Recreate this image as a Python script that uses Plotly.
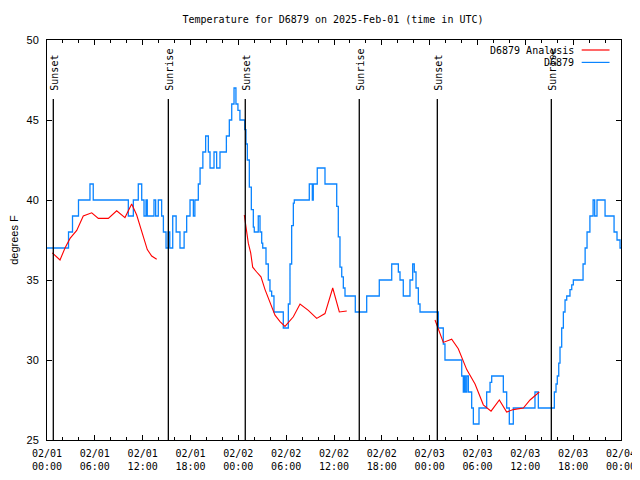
import pandas as pd
import plotly.graph_objects as go

BASE = pd.Timestamp("2025-02-01 00:00")

# Observed temperature (hours since 2025-02-01 00:00 UTC, degrees F), step changes
obs_hours = [0.0, 2.7, 3.2, 3.95, 5.39, 5.8, 10.2, 10.5, 10.83, 11.45, 11.75, 11.88, 12.17, 12.42,
             12.58, 13.42, 13.63, 13.96, 14.38, 14.6, 14.93, 15.2, 15.4, 15.77, 16.2, 16.68, 17.2,
             17.52, 17.94, 18.36, 18.55, 18.98, 19.2, 19.55, 19.9, 20.24, 20.45, 20.95, 21.28,
             21.7, 22.5, 22.87, 23.17, 23.46, 23.7, 23.95, 24.2, 24.8, 24.96, 25.13, 25.38, 25.63,
             25.88, 26.0, 26.5, 26.72, 26.93, 27.06, 27.47, 27.76, 27.97, 28.18, 28.47, 29.64,
             30.27, 30.48, 30.69, 30.9, 31.02, 32.9, 33.28, 33.4, 33.9, 34.87, 36.34, 36.54,
             36.75, 36.97, 37.17, 37.38, 38.67, 40.1, 41.68, 43.24, 44.07, 44.28, 44.69, 45.53,
             45.87, 46.07, 46.29, 46.58, 46.79, 49.09, 49.71, 49.92, 52.02, 52.22, 52.35, 52.47,
             52.65, 52.85, 53.27, 53.48, 54.19, 55.15, 55.57, 55.78, 57.24, 57.66, 57.99, 58.49,
             61.21, 61.63, 63.64, 63.85, 64.01, 64.19, 64.35, 64.56, 64.77, 64.98, 65.19, 65.6,
             65.82, 66.02, 67.24, 67.5, 67.74, 68.1, 68.5, 68.7, 68.99, 70.0, 71.13, 71.5, 71.88, 72.0]
obs_temp = [37, 38, 39, 40, 41, 40, 39, 39, 40, 41, 41, 40, 39, 40,
            39, 40, 39, 40, 39, 38, 37, 38, 37, 39, 38, 37, 38,
            39, 40, 39, 40, 41, 42, 43, 44, 43, 42, 43, 42,
            43, 44, 45, 46, 47, 46, 45.6, 45, 44.4, 43.5, 42.5, 40.8, 39.4,
            38.3, 38, 39, 38, 37.3, 37, 36, 35, 34.3, 34, 33, 32,
            33.5, 36, 38.4, 39.8, 40, 41, 40, 41, 42, 41, 39.6, 37.7,
            35.8, 35.2, 34.5, 34, 33, 34, 35, 36, 35.5, 35, 34, 35,
            36, 35.5, 34.5, 33.5, 33, 32, 31, 30, 29, 28, 29, 28,
            29, 28, 27, 26, 27, 28, 28.6, 29, 28, 27, 26, 27,
            28, 27, 28, 28.5, 29, 29.8, 30.8, 32, 33, 33.75, 34, 34.4,
            34.7, 35, 36, 37, 38, 39, 40, 39, 40, 39, 38, 37.5, 37, 37]

# Analysis (hours, degrees F); None marks gaps
ana_hours = [0.66, 1.63, 2.26, 2.89, 3.73, 4.55, 5.61, 6.44, 7.69, 8.74, 9.78, 10.62, 11.25,
             11.88, 12.58, 13.13, 13.76, None,
             24.75, 24.96, 25.25, 25.55, 25.8, 26.3, 26.84, 27.35, 27.97, 28.6, 29.23, 29.85,
             30.9, 31.74, 32.78, 33.83, 34.87, 35.84, 36.67, 37.6, None,
             48.67, 49.09, 49.71, 50.76, 51.59, 52.65, 53.69, 54.73, 55.7, 56.74, 57.66, 58.49,
             59.75, 60.59, 61.75]
ana_temp = [36.7, 36.25, 37.0, 37.6, 38.1, 39.0, 39.2, 38.85, 38.85, 39.33, 38.9, 39.75, 39.06,
            38.1, 36.9, 36.5, 36.3, None,
            39.06, 38.3, 37.3, 36.7, 35.8, 35.5, 35.2, 34.4, 33.6, 32.8, 32.4, 32.1,
            32.7, 33.5, 33.1, 32.6, 32.9, 34.5, 33.0, 33.06, None,
            32.5, 31.9, 31.1, 31.3, 30.7, 29.4, 28.5, 27.2, 26.8, 27.5, 26.75, 26.9,
            27.0, 27.5, 28.0]

sun_labels = ["Sunset", "Sunrise", "Sunset", "Sunrise", "Sunset", "Sunrise"]
sun_hours = [0.79, 15.22, 24.87, 39.17, 48.96, 63.26]

series_names = ["D6879 Analysis", "D6879"]
series_colors = ["#ff0000", "#0a84ff"]


def to_time(hours):
    return [None if h is None else BASE + pd.Timedelta(hours=h) for h in hours]


MONO = "DejaVu Sans Mono"
fig = go.Figure()

fig.add_trace(go.Scatter(x=to_time(obs_hours), y=obs_temp, mode="lines",
                         line=dict(color=series_colors[1], width=1.3, shape="hv"),
                         name=series_names[1], showlegend=False))
fig.add_trace(go.Scatter(x=to_time(ana_hours), y=ana_temp, mode="lines",
                         line=dict(color=series_colors[0], width=1.1),
                         name=series_names[0], showlegend=False, connectgaps=False))

for lab, h in zip(sun_labels, sun_hours):
    t = BASE + pd.Timedelta(hours=h)
    fig.add_shape(type="line", xref="x", yref="paper", x0=t, x1=t, y0=0, y1=0.8525,
                  line=dict(color="black", width=1.3))
    fig.add_annotation(x=t, xref="x", yref="paper", y=0.869, text=lab, textangle=-90,
                       showarrow=False, xanchor="center", yanchor="bottom", xshift=1,
                       font=dict(family=MONO, size=10, color="black"))

# gnuplot-style legend key (text then line sample), top right
for i, (nm, col) in enumerate(zip(series_names, series_colors)):
    yy = 0.975 - i * 0.031
    fig.add_annotation(x=0.918, y=yy, xref="paper", yref="paper", text=nm, showarrow=False,
                       xanchor="right", yanchor="middle", xshift=2,
                       font=dict(family=MONO, size=10, color="black"))
    fig.add_shape(type="line", xref="paper", yref="paper", x0=0.9315, x1=0.98, y0=yy, y1=yy,
                  line=dict(color=col, width=1.2))

# page body keeps an 8px margin, so the figure is 8px smaller to fill the 640x480 window
W, H, OFF = 632, 472, 8
fig.update_layout(
    width=W, height=H,
    margin=dict(l=47 - OFF, r=19, t=40 - OFF, b=40, autoexpand=False),
    paper_bgcolor="white", plot_bgcolor="white",
    title=dict(text="Temperature for D6879 on 2025-Feb-01 (time in UTC)", x=(333 - OFF) / W,
               xanchor="center", xref="container", yref="container",
               y=1 - (19 - OFF) / H, yanchor="middle",
               font=dict(family=MONO, size=10, color="black")),
    showlegend=False,
)
fig.update_xaxes(
    type="date", range=[BASE, BASE + pd.Timedelta(hours=72)], automargin=False,
    tick0=BASE, dtick=6 * 3600 * 1000, tickformat="%m/%d<br>%H:%M",
    ticks="inside", ticklen=5, tickcolor="black", showgrid=False, zeroline=False,
    showline=True, linecolor="black", linewidth=1, mirror="allticks",
    minor=dict(dtick=2 * 3600 * 1000, ticks="inside", ticklen=3, tickcolor="black", showgrid=False),
    tickfont=dict(family=MONO, size=10, color="black"), ticklabelstandoff=4,
)
fig.update_yaxes(
    range=[25, 50], dtick=5, ticks="inside", ticklen=5, tickcolor="black", automargin=False,
    showgrid=False, zeroline=False, showline=True, linecolor="black", linewidth=1,
    mirror="allticks", tickfont=dict(family="Liberation Sans", size=11, color="black"),
    ticklabelstandoff=5,
    title=dict(text="degrees F", font=dict(family="Liberation Sans", size=11, color="black"), standoff=13),
)

fig.write_html("out.html")
